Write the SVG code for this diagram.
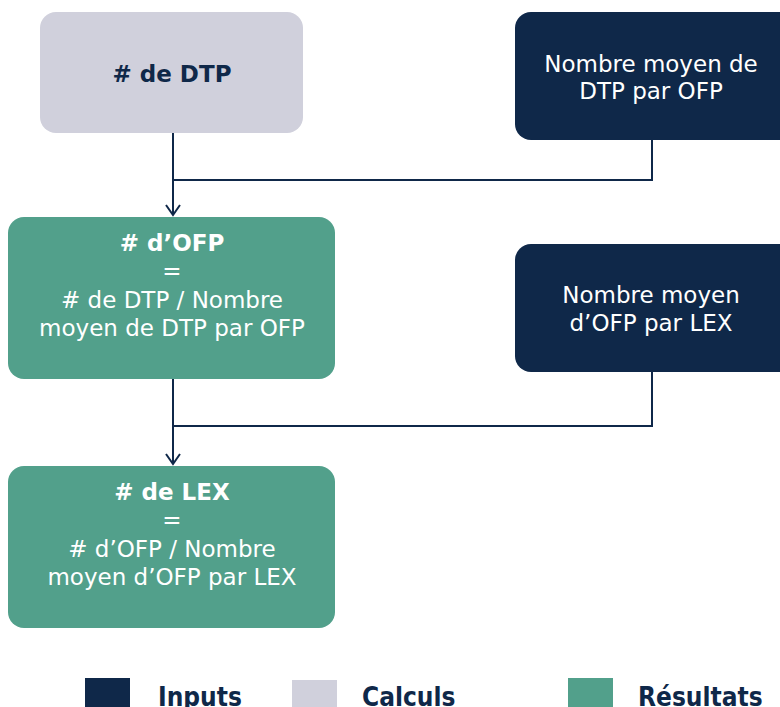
<svg xmlns="http://www.w3.org/2000/svg" width="780" height="707" viewBox="0 0 780 707">
<style>
.t{font-family:"DejaVu Sans","Verdana",sans-serif;font-size:23px;text-anchor:middle}
.b{font-weight:bold}
.lg{font-family:"DejaVu Sans Condensed","DejaVu Sans",sans-serif;font-weight:bold;font-size:26px;fill:#0f2849}
.in{fill:#0f2849}
.ca{fill:#d0d0dc}
.re{fill:#52a08b}
.w{fill:#ffffff}
.d{fill:#0f2849}
.c{fill:none;stroke:#0f2849;stroke-width:2}
</style>
<defs>
<marker id="arr" markerWidth="14" markerHeight="18" refX="11" refY="8" orient="auto" markerUnits="userSpaceOnUse" viewBox="0 0 14 16">
<path d="M1 1 L11 8 L1 15" fill="none" stroke="#0f2849" stroke-width="2"/>
</marker>
</defs>
<g id="connectors">
<path class="c" d="M173 133 V215" marker-end="url(#arr)"/>
<path class="c" d="M652 140 V180 H173"/>
<path class="c" d="M173 379 V464" marker-end="url(#arr)"/>
<path class="c" d="M652 372 V426 H173"/>
</g>
<g id="n_dtp">
<rect class="ca" x="40" y="12" width="263" height="121" rx="16"/>
<text class="t b d" x="172" y="82"># de DTP</text>
</g>
<g id="n_in1">
<rect class="in" x="515" y="12" width="280" height="128" rx="16"/>
<text class="t w" x="651" y="72">Nombre moyen de</text>
<text class="t w" x="651" y="99">DTP par OFP</text>
</g>
<g id="n_ofp">
<rect class="re" x="8" y="217" width="327" height="162" rx="16"/>
<text class="t b w" x="172" y="251"># d’OFP</text>
<text class="t w" x="172" y="279">=</text>
<text class="t w" x="172" y="308"># de DTP / Nombre</text>
<text class="t w" x="172" y="336">moyen de DTP par OFP</text>
</g>
<g id="n_in2">
<rect class="in" x="515" y="244" width="280" height="128" rx="16"/>
<text class="t w" x="651" y="303">Nombre moyen</text>
<text class="t w" x="651" y="331">d’OFP par LEX</text>
</g>
<g id="n_lex">
<rect class="re" x="8" y="466" width="327" height="162" rx="16"/>
<text class="t b w" x="172" y="500"># de LEX</text>
<text class="t w" x="172" y="528">=</text>
<text class="t w" x="172" y="557"># d’OFP / Nombre</text>
<text class="t w" x="172" y="585">moyen d’OFP par LEX</text>
</g>
<g id="legend">
<rect class="in" x="85" y="678" width="45" height="35"/>
<text class="lg" x="158" y="706">Inputs</text>
<rect class="ca" x="292" y="680" width="45" height="35"/>
<text class="lg" x="362" y="706">Calculs</text>
<rect class="re" x="568" y="678" width="45" height="35"/>
<text class="lg" x="638" y="706">Résultats</text>
</g>
</svg>
